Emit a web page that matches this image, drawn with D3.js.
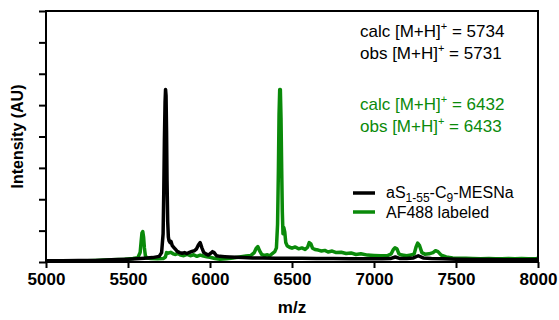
<!DOCTYPE html>
<html lang="en">
	<head>
		<meta charset="utf-8">
		<title>mass spectrum</title>
		<script type="text/javascript" src="https://d3js.org/d3.v7.min.js"></script>
		<style type="text/css">
            body{margin:0;background:#fff;font-family:Arial,"Liberation Sans",sans-serif;}
            #chart1 svg{display:block;}
		</style>
	</head>
	<body>
    <div id="chart1"></div>
		<script type="text/javascript">
            // spectra: m/z and intensity (axis runs 0..8 in tick units)
            var blackMz = [5000,5100,5200,5300,5400,5500,5600,5650,5690,5705,5714,5718,5722,5726,5729,5732,5735,5738,5742,5746,5750,5756,5762,5770,5780,5790,5800,5815,5830,5845,5860,5875,5890,5905,5918,5930,5940,5950,5962,5975,5990,6005,6015,6025,6040,6060,6090,6120,6160,6200,6260,6320,6400,6480,6560,6650,6750,6850,6950,7050,7100,7130,7160,7200,7240,7270,7300,7350,7420,7500,7600,7700,7800,7900,8000]
            var blackInt = [0.04,0.04,0.05,0.05,0.07,0.09,0.12,0.14,0.18,0.3,0.9,2.2,3.9,5.1,5.5,5.3,4.2,2.6,1.3,0.8,0.68,0.62,0.66,0.52,0.46,0.4,0.34,0.3,0.28,0.3,0.27,0.31,0.34,0.36,0.42,0.55,0.62,0.46,0.3,0.26,0.22,0.28,0.33,0.3,0.2,0.18,0.17,0.16,0.15,0.14,0.13,0.13,0.12,0.12,0.12,0.11,0.11,0.1,0.1,0.1,0.11,0.16,0.11,0.11,0.13,0.2,0.13,0.11,0.1,0.09,0.08,0.08,0.07,0.07,0.08]

            var greenMz = [5000,5100,5200,5300,5400,5480,5530,5560,5574,5580,5585,5590,5595,5600,5606,5615,5640,5680,5715,5728,5735,5745,5760,5775,5790,5805,5820,5840,5860,5880,5900,5920,5940,5960,5980,6000,6030,6060,6100,6140,6180,6220,6250,6270,6282,6292,6302,6315,6330,6350,6365,6380,6395,6405,6412,6417,6421,6425,6429,6433,6437,6441,6445,6450,6456,6462,6470,6485,6500,6520,6540,6560,6580,6595,6605,6615,6625,6640,6660,6680,6700,6720,6745,6770,6800,6830,6860,6890,6920,6960,7000,7040,7080,7105,7118,7128,7140,7152,7170,7200,7225,7245,7256,7266,7278,7292,7310,7335,7360,7375,7390,7410,7440,7480,7520,7560,7600,7650,7700,7740,7780,7820,7860,7900,7940,7980,8000]
            var greenInt = [0.02,0.03,0.03,0.05,0.07,0.09,0.11,0.14,0.3,0.65,0.92,0.97,0.8,0.45,0.2,0.13,0.11,0.1,0.11,0.16,0.3,0.28,0.31,0.26,0.24,0.27,0.22,0.2,0.24,0.2,0.23,0.18,0.22,0.19,0.17,0.15,0.11,0.09,0.1,0.13,0.16,0.19,0.21,0.3,0.44,0.49,0.36,0.24,0.21,0.23,0.2,0.27,0.33,0.45,1.2,2.9,4.7,5.5,5.5,4.6,3.0,1.6,0.9,1.1,0.95,0.62,0.52,0.47,0.44,0.48,0.42,0.45,0.4,0.47,0.62,0.58,0.44,0.4,0.38,0.35,0.37,0.32,0.35,0.3,0.31,0.27,0.29,0.24,0.26,0.22,0.21,0.2,0.2,0.26,0.4,0.45,0.42,0.26,0.22,0.2,0.22,0.26,0.47,0.6,0.52,0.3,0.25,0.26,0.3,0.36,0.33,0.22,0.16,0.13,0.12,0.12,0.11,0.1,0.11,0.1,0.1,0.11,0.1,0.11,0.1,0.1,0.12]

            var xTicks = [5000,5500,6000,6500,7000,7500,8000]
            var yTicks = [0,1,2,3,4,5,6,7,8]
            var legendLabels = ["black","green"]
            var calcObs = [
                {c:"#000", pre:"calc [M+H]", post:" = 5734"},
                {c:"#000", pre:"obs [M+H]", post:" = 5731"},
                {c:"#0a8a0a", pre:"calc [M+H]", post:" = 6432"},
                {c:"#0a8a0a", pre:"obs [M+H]", post:" = 6433"}
            ]

            var w = 559
            var h = 320
            // careful: "top" is window.top, so use other names
            var padL = 46, padR = 538, padT = 11, padB = 262
            var green = "#0a8a0a"

            var xScale = d3.scaleLinear().domain([5000,8000]).range([padL,padR])
            var yScale = d3.scaleLinear().domain([0,8]).range([padB,padT])

            var svg = d3.select("#chart1")
                        .append("svg")
                        .attr("width",w)
                        .attr("height",h)

            function drawSpectrum(mz,val,color){
                var pts = mz.map(function(m,i){ return [m,val[i]] })
                var line = d3.line()
                    .x(function(d){ return xScale(d[0]) })
                    .y(function(d){ return yScale(d[1]) })
                svg.append("path")
                    .datum(pts)
                    .attr("d",line)
                    .attr("fill","none")
                    .attr("stroke",color)
                    .attr("stroke-width",3.5)
                    .attr("stroke-linejoin","round")
            }
            // green under black, like the original
            drawSpectrum(greenMz,greenInt,green)
            drawSpectrum(blackMz,blackInt,"#000")

            // frame
            svg.append("rect")
                .attr("x",padL).attr("y",padT)
                .attr("width",padR-padL).attr("height",padB-padT)
                .attr("fill","none").attr("stroke","#000").attr("stroke-width",2)

            var xAxis = svg.append("g")
                .attr("transform","translate(0,"+padB+")")
                .call(d3.axisBottom(xScale).tickValues(xTicks).tickSize(6).tickPadding(5).tickFormat(d3.format("d")))
            var yAxis = svg.append("g")
                .attr("transform","translate("+padL+",0)")
                .call(d3.axisLeft(yScale).tickValues(yTicks).tickSize(7).tickFormat(""))
            svg.selectAll(".domain").remove()
            svg.selectAll(".tick line").attr("stroke","#000").attr("stroke-width",2)
            xAxis.selectAll("text")
                .attr("fill","#000")
                .style("font-family","Arial, 'Liberation Sans', sans-serif")
                .style("font-size","17px")
                .style("font-weight","bold")

            svg.append("text")
                .attr("x",(padL+padR)/2).attr("y",313)
                .attr("text-anchor","middle")
                .style("font-size","17px").style("font-weight","bold")
                .text("m/z")
            svg.append("text")
                .attr("transform","translate(23,"+((padT+padB)/2)+") rotate(-90)")
                .attr("text-anchor","middle")
                .style("font-size","16px").style("font-weight","bold")
                .text("Intensity (AU)")

            // mass annotations
            var annY = [36.5,58.5,110,132]
            calcObs.forEach(function(a,i){
                var t = svg.append("text")
                    .attr("x",360).attr("y",annY[i])
                    .attr("fill",a.c)
                    .style("font-size","17px")
                t.append("tspan").text(a.pre)
                t.append("tspan").attr("dy",-7).style("font-size","11px").text("+")
                t.append("tspan").attr("dy",7).text(a.post)
            })

            // legend
            var legY = [193,212]
            legendLabels.forEach(function(k,i){
                svg.append("line")
                    .attr("x1",353).attr("x2",375)
                    .attr("y1",legY[i]).attr("y2",legY[i])
                    .attr("stroke",k=="black" ? "#000" : green)
                    .attr("stroke-width",3.5)
            })
            var t1 = svg.append("text").attr("x",386).attr("y",198).style("font-size","16px")
            t1.append("tspan").text("aS")
            t1.append("tspan").attr("dy",4).style("font-size","12px").text("1-55")
            t1.append("tspan").attr("dy",-4).text("-C")
            t1.append("tspan").attr("dy",4).style("font-size","12px").text("9")
            t1.append("tspan").attr("dy",-4).text("-MESNa")
            svg.append("text").attr("x",386).attr("y",218).style("font-size","16px").text("AF488 labeled")
        </script>
	</body>
</html>
